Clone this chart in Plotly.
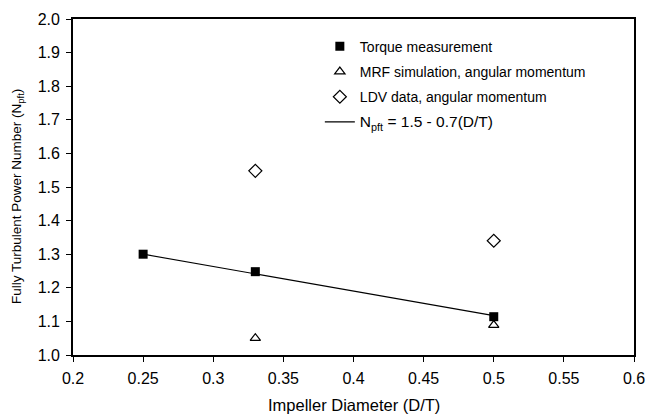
import plotly.graph_objects as go

# Data
torque_x = [0.25, 0.33, 0.5]
torque_y = [1.30, 1.248, 1.114]
mrf_x = [0.33, 0.5]
mrf_y = [1.05, 1.089]
ldv_x = [0.33, 0.5]
ldv_y = [1.548, 1.34]
fit_x = [0.25, 0.5]
fit_y = [1.30, 1.117]

x_ticks = [0.2, 0.25, 0.3, 0.35, 0.4, 0.45, 0.5, 0.55, 0.6]
x_tick_text = ["0.2", "0.25", "0.3", "0.35", "0.4", "0.45", "0.5", "0.55", "0.6"]
y_ticks = [1.0, 1.1, 1.2, 1.3, 1.4, 1.5, 1.6, 1.7, 1.8, 1.9, 2.0]
y_tick_text = ["%.1f" % v for v in y_ticks]

FONT = "Arial, Liberation Sans, sans-serif"

fig = go.Figure()
fig.add_trace(go.Scatter(
    x=fit_x, y=fit_y, mode="lines", line=dict(color="black", width=1.2),
    name="<span style='font-size:15.5px'>N<sub>pft</sub> = 1.5 - 0.7(D/T)</span>",
    legendrank=4, legendgroup="d"))
fig.add_trace(go.Scatter(
    x=torque_x, y=torque_y, mode="markers", name="Torque measurement",
    marker=dict(symbol="square", size=9, color="black", line=dict(width=0)),
    legendrank=1, legendgroup="a"))
fig.add_trace(go.Scatter(
    x=mrf_x, y=mrf_y, mode="markers", name="MRF simulation, angular momentum",
    marker=dict(symbol="triangle-up-open", size=9, color="black", line=dict(width=1.2)),
    legendrank=2, legendgroup="b"))
fig.add_trace(go.Scatter(
    x=ldv_x, y=ldv_y, mode="markers", name="LDV data, angular momentum",
    marker=dict(symbol="diamond-open", size=10, color="black", line=dict(width=1.2)),
    legendrank=3, legendgroup="c"))

axis_common = dict(showgrid=False, zeroline=False, automargin=False)

fig.update_layout(
    width=646, height=417,
    margin=dict(l=73, r=12, t=19, b=62),
    paper_bgcolor="white", plot_bgcolor="white",
    font=dict(family=FONT, color="black", size=16),
    showlegend=True,
    legend=dict(x=0.44, xanchor="left", y=0.965, yanchor="top",
                bgcolor="rgba(0,0,0,0)", font=dict(size=14, family=FONT),
                tracegroupgap=4, itemwidth=30, traceorder="grouped"),
    xaxis=dict(range=[0.2, 0.6], tickvals=x_ticks, ticktext=x_tick_text,
               ticks="outside", ticklen=5, tickwidth=1.2, tickcolor="black",
               showline=True, linecolor="black", linewidth=1.8, mirror=True,
               tickfont=dict(size=16), ticklabelstandoff=3,
               **axis_common),
    yaxis=dict(range=[1.0, 2.0], tickvals=y_ticks, ticktext=y_tick_text,
               ticks="outside", ticklen=5, tickwidth=1.2, tickcolor="black",
               showline=True, linecolor="black", linewidth=1.8, mirror=True,
               tickfont=dict(size=16), ticklabelstandoff=3,
               **axis_common),
    xaxis2=dict(overlaying="x", anchor="y", side="bottom", range=[0.2, 0.6],
                tickvals=x_ticks, ticks="inside", ticklen=5, tickwidth=1.2,
                tickcolor="black", showticklabels=False, showline=False, **axis_common),
    yaxis2=dict(overlaying="y", anchor="x", side="left", range=[1.0, 2.0],
                tickvals=y_ticks, ticks="inside", ticklen=5, tickwidth=1.2,
                tickcolor="black", showticklabels=False, showline=False, **axis_common),
    yaxis3=dict(overlaying="y", anchor="x", side="right", range=[1.0, 2.0],
                tickvals=y_ticks[1:-1], ticks="inside", ticklen=5, tickwidth=1.2,
                tickcolor="black", showticklabels=False, showline=False, **axis_common),
    annotations=[
        dict(text="Fully Turbulent Power Number (N<sub>pft</sub>)",
             textangle=-90, xref="paper", yref="paper",
             x=-0.100, y=0.473, xanchor="center", yanchor="middle",
             showarrow=False, font=dict(size=13.5, family=FONT)),
        dict(text="Impeller Diameter (D/T)",
             xref="paper", yref="paper",
             x=0.5, y=-0.149, xanchor="center", yanchor="middle",
             showarrow=False, font=dict(size=16.5, family=FONT)),
    ],
)

fig.write_html("out.html")
